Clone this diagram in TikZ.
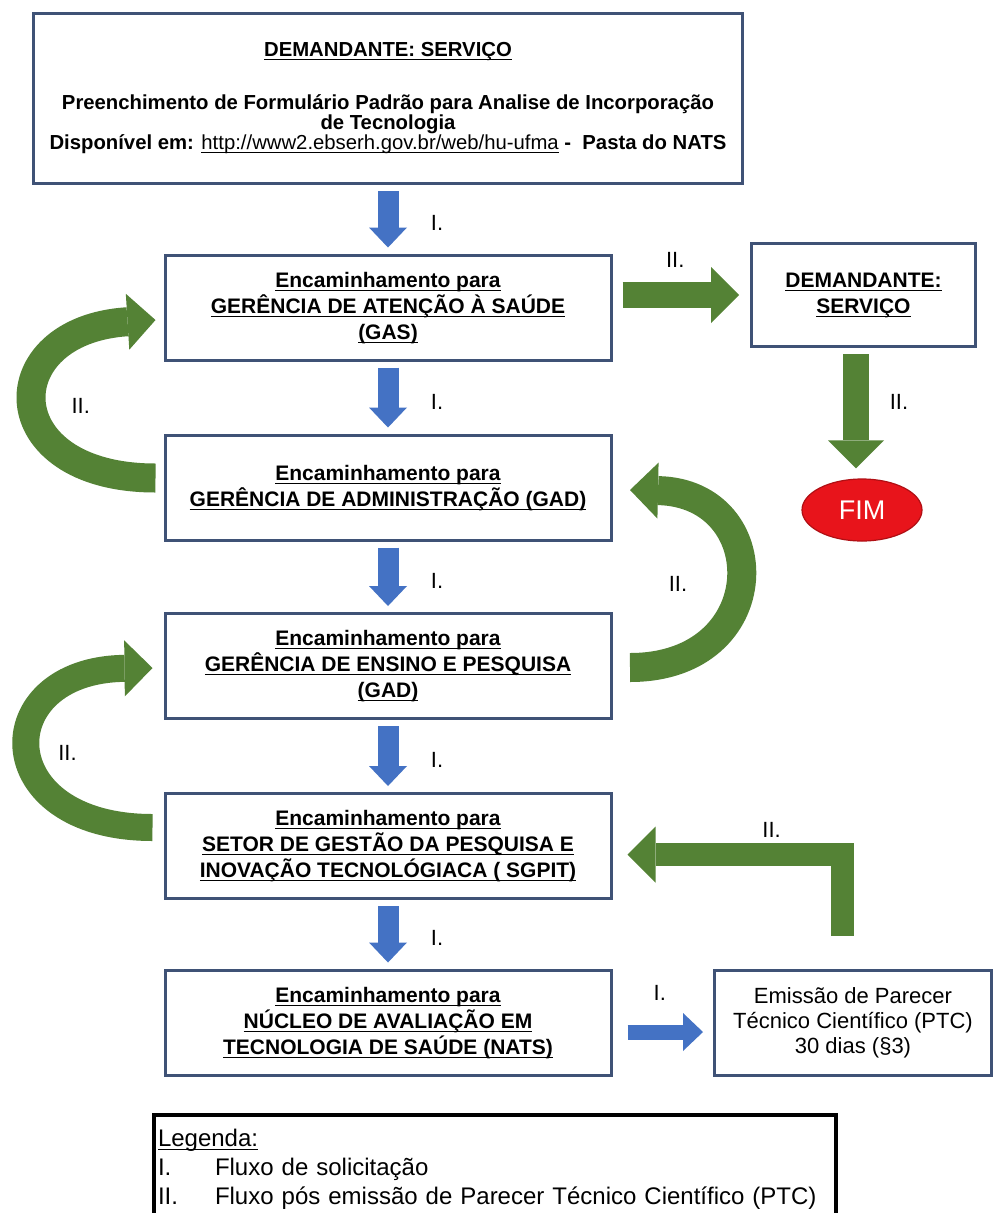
\documentclass[tikz,border=0pt]{standalone}
\usepackage{amsmath}
\usepackage{fontspec}
\setmainfont{Liberation Sans}
\usetikzlibrary{positioning}
\usetikzlibrary{calc}
\usetikzlibrary{shapes.geometric}
\usetikzlibrary{arrows.meta}
\definecolor{border colour}{HTML}{3F5276}
\definecolor{request colour}{HTML}{4472C4}
\definecolor{reply colour}{HTML}{548235}
\definecolor{end colour}{HTML}{E8141B}
\definecolor{end border}{HTML}{B00F14}
\newcommand{\ulbox}[1]{\underline{\smash[b]{#1}}}
\tikzset{
    % Block arrows: a wide shaft ending in a big triangle
    request/.style={color=request colour, line width=21pt,
        -{Triangle[length=20pt, width=38pt, line width=0pt]},
        shorten <=6pt, shorten >=6pt},
    reply/.style={color=reply colour, line width=29pt,
        -{Triangle[length=28pt, width=56pt, line width=0pt]}},
    % Roman numerals next to the arrows
    flow label/.style={text=black, inner sep=0pt,
        font=\fontsize{22}{22}\selectfont},
    % We almost always want centre aligned node text
    every node/.style={align=center},
}

\begin{document}
\begin{tikzpicture}[
    x=1pt, y=-1pt,
    box/.style={draw=border colour, line width=3pt, fill=white,
        minimum width=446pt, minimum height=105pt, inner sep=0pt,
        font=\bfseries\fontsize{21}{26}\selectfont},
    top box/.style={box, minimum width=709pt, minimum height=170pt,
        font=\bfseries\fontsize{20.3}{20}\selectfont},
    side box/.style={box, font=\fontsize{22}{25}\selectfont},
    fim box/.style={ellipse, draw=end border, fill=end colour, line width=1.2pt,
        minimum width=120pt, minimum height=62pt, inner sep=0pt,
        text=white, font=\fontsize{27}{27}\selectfont},
    legend box/.style={draw=black, line width=4pt, anchor=north west,
        text width=674pt, align=left, inner xsep=4pt, inner ysep=14pt,
        font=\fontsize{24}{29}\selectfont},
]

\useasboundingbox (0,0) rectangle (996,1213);
\clip (0,0) rectangle (996,1213);
\fill [white] (0,0) rectangle (996,1213);

\path
    (388,98.5) node (top) [top box] {\ulbox{DEMANDANTE: SERVIÇO}\\[33pt]
        Preenchimento de Formulário Padrão para Analise de Incorporação\\
        de Tecnologia\\
        Disponível em: {\mdseries\ulbox{http://www2.ebserh.gov.br/web/hu-ufma}}\ -\ \ Pasta do NATS}
    ++(0,209) node (gas) [box] {\ulbox{Encaminhamento para}\\
        \ulbox{GERÊNCIA DE ATENÇÃO À SAÚDE}\\ \ulbox{(GAS)}}
    ++(0,180) node (gad) [box] {\ulbox{Encaminhamento para}\\
        \ulbox{GERÊNCIA DE ADMINISTRAÇÃO (GAD)}}
    ++(0,178.5) node (gep) [box] {\ulbox{Encaminhamento para}\\
        \ulbox{GERÊNCIA DE ENSINO E PESQUISA}\\ \ulbox{(GAD)}}
    ++(0,180) node (sgpit) [box] {\ulbox{Encaminhamento para}\\
        \ulbox{SETOR DE GESTÃO DA PESQUISA E}\\
        \ulbox{INOVAÇÃO TECNOLÓGIACA ( SGPIT)}}
    ++(0,176.5) node (nats) [box] {\ulbox{Encaminhamento para}\\
        \ulbox{NÚCLEO DE AVALIAÇÃO EM}\\
        \ulbox{TECNOLOGIA DE SAÚDE (NATS)}};

\path
    (863.5,295) node (dem) [box, minimum width=224pt, minimum height=103pt]
        {\ulbox{DEMANDANTE:}\\ \ulbox{SERVIÇO}}
    (862,510) node (fim) [fim box] {FIM}
    (853,1022.5) node (emis) [side box, minimum width=277pt]
        {Emissão de Parecer\\ Técnico Científico (PTC)\\ 30 dias (§3)};

\node (legend) [legend box] at (152,1113) {\ulbox{Legenda:}\\
    \makebox[57pt][l]{I.}Fluxo de solicitação\\
    \makebox[57pt][l]{II.}Fluxo pós emissão de Parecer Técnico Científico (PTC)};

% Request flow (I.)
\draw [request] (top) -- (gas)
    node [flow label, midway, xshift=49pt, yshift=-4pt] {I.};
\draw [request] (gas) -- (gad)
    node [flow label, midway, xshift=49pt, yshift=-4pt] {I.};
\draw [request] (gad) -- (gep)
    node [flow label, midway, xshift=49pt, yshift=-4pt] {I.};
\draw [request] (gep) -- (sgpit)
    node [flow label, midway, xshift=49pt, yshift=-4pt] {I.};
\draw [request] (sgpit) -- (nats)
    node [flow label, midway, xshift=49pt, yshift=-4pt] {I.};
\draw [request, line width=15pt, shorten <=15pt, shorten >=10pt]
    ($(nats.east)+(0,9.5)$) -- ($(emis.west)+(0,9.5)$)
    node [flow label, midway, xshift=-3pt, yshift=39pt] {I.};

% Flow after the PTC is issued (II.)
\draw [reply, line width=26pt, shorten <=10pt, shorten >=11pt]
    (gas.east |- dem) -- (dem.west)
    node [flow label, midway, xshift=-6pt, yshift=35pt] {II.};
\draw [reply, line width=26pt, shorten <=6pt, shorten >=10pt]
    ($(fim.north |- dem.south)+(-6,0)$) -- ($(fim.north)+(-6,0)$)
    node [flow label, midway, xshift=43pt, yshift=11pt] {II.};
\draw [reply] ($(gad.west)+(-8,-9.5)$)
    .. controls +(-161,0) and +(-161,10) .. ($(gas.west)+(-8,12.5)$)
    node [flow label, pos=0.5, xshift=46pt, yshift=-3pt] {II.};
\draw [reply] ($(gep.east)+(17.5,1.5)$)
    .. controls +(144,0) and +(144,3) .. ($(gad.east)+(17.5,2.5)$)
    node [flow label, pos=0.5, xshift=-60pt, yshift=-4pt] {II.};
\draw [reply, line width=27pt] ($(sgpit.west)+(-11,-18.5)$)
    .. controls +(-164,0) and +(-164,2) .. ($(gep.west)+(-11,2)$)
    node [flow label, pos=0.5, xshift=38pt, yshift=-4pt] {II.};

% The PTC goes back to SGPIT
\coordinate (emis return) at ($(emis.north)+(-11,-33)$);
\draw [reply, line width=23pt] (emis return) |- ($(sgpit.east)+(15,8.5)$)
    node [flow label, pos=0.664, yshift=24.5pt] {II.};

\end{tikzpicture}
\end{document}
